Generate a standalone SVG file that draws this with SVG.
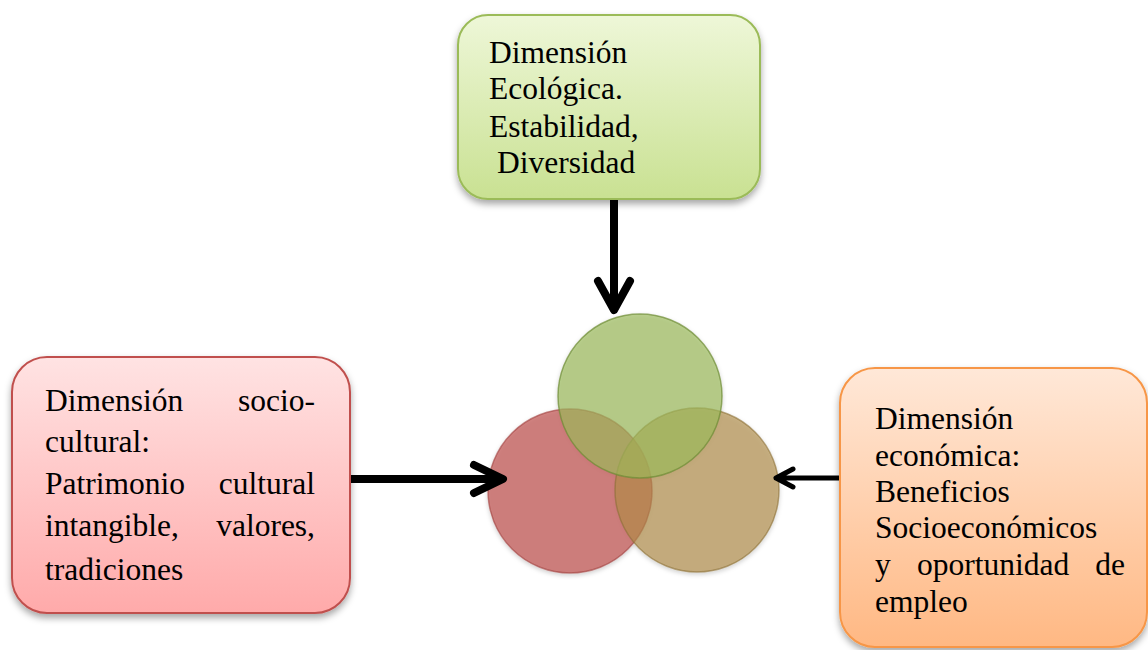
<svg xmlns="http://www.w3.org/2000/svg" width="1148" height="650" viewBox="0 0 1148 650">
<defs>
<linearGradient id="gGreen" x1="0" y1="0" x2="0" y2="1"><stop offset="0" stop-color="#eef7d8"/><stop offset="1" stop-color="#c9e192"/></linearGradient>
<linearGradient id="gRed" x1="0" y1="0" x2="0" y2="1"><stop offset="0" stop-color="#ffe3e3"/><stop offset="1" stop-color="#ffaaaa"/></linearGradient>
<linearGradient id="gOrange" x1="0" y1="0" x2="0" y2="1"><stop offset="0" stop-color="#ffe8d8"/><stop offset="1" stop-color="#ffb883"/></linearGradient>
<filter id="sh" x="-10%" y="-10%" width="130%" height="130%"><feDropShadow dx="0" dy="4" stdDeviation="3.5" flood-color="#000" flood-opacity="0.35"/></filter>
<filter id="csh" x="-10%" y="-10%" width="130%" height="130%"><feDropShadow dx="0" dy="2" stdDeviation="2" flood-color="#000" flood-opacity="0.25"/></filter>
</defs>
<style>
.t{font-family:"Liberation Serif","Times New Roman",serif;font-size:31.5px;fill:#000}
.e{text-anchor:end}
.arr{fill:none;stroke:#000;stroke-linecap:round;stroke-linejoin:round}
</style>
<g id="circles" filter="url(#csh)">
<circle cx="570" cy="491" r="82" fill="#c0504d" fill-opacity="0.68" stroke="#a0403d" stroke-opacity="0.6" stroke-width="1.5"/>
<circle cx="697" cy="490" r="82" fill="#af8c46" fill-opacity="0.64" stroke="#8c7035" stroke-opacity="0.6" stroke-width="1.5"/>
<circle cx="640" cy="396" r="82" fill="#9bbb59" fill-opacity="0.66" stroke="#6e8c35" stroke-opacity="0.7" stroke-width="1.5"/>
</g>
<g id="connectors">
<path class="arr" stroke-width="8" d="M614 198 V309 M598 281 L614 310 L630 281"/>
<path class="arr" stroke-width="8" d="M350 479 H502 M474 465 L503 479 L474 493"/>
<path class="arr" stroke-width="5" d="M840 478 H776 M793 469 L776 478 L793 487"/>
</g>
<g id="node-ecologica">
<rect x="458" y="15" width="302" height="184" rx="30" fill="url(#gGreen)" stroke="#9bbb59" stroke-width="2" filter="url(#sh)"/>
<text class="t" x="489" y="63">Dimensión</text>
<text class="t" x="489" y="99">Ecológica.</text>
<text class="t" x="489" y="137">Estabilidad,</text>
<text class="t" x="497" y="173">Diversidad</text>
</g>
<g id="node-sociocultural">
<rect x="12" y="357" width="338" height="256" rx="35" fill="url(#gRed)" stroke="#c0504d" stroke-width="2" filter="url(#sh)"/>
<text class="t" x="45" y="411">Dimensión</text>
<text class="t e" x="315" y="411">socio-</text>
<text class="t" x="45" y="452">cultural:</text>
<text class="t" x="45" y="494">Patrimonio</text>
<text class="t e" x="315" y="494">cultural</text>
<text class="t" x="45" y="536">intangible,</text>
<text class="t e" x="315" y="536">valores,</text>
<text class="t" x="45" y="580">tradiciones</text>
</g>
<g id="node-economica">
<rect x="840" y="368" width="307" height="279" rx="35" fill="url(#gOrange)" stroke="#f79646" stroke-width="2" filter="url(#sh)"/>
<text class="t" x="875" y="429">Dimensión</text>
<text class="t" x="875" y="466">económica:</text>
<text class="t" x="875" y="502">Beneficios</text>
<text class="t" x="875" y="538">Socioeconómicos</text>
<text class="t" x="875" y="575">y</text>
<text class="t" x="917" y="575">oportunidad</text>
<text class="t e" x="1125" y="575">de</text>
<text class="t" x="875" y="612">empleo</text>
</g>
</svg>
